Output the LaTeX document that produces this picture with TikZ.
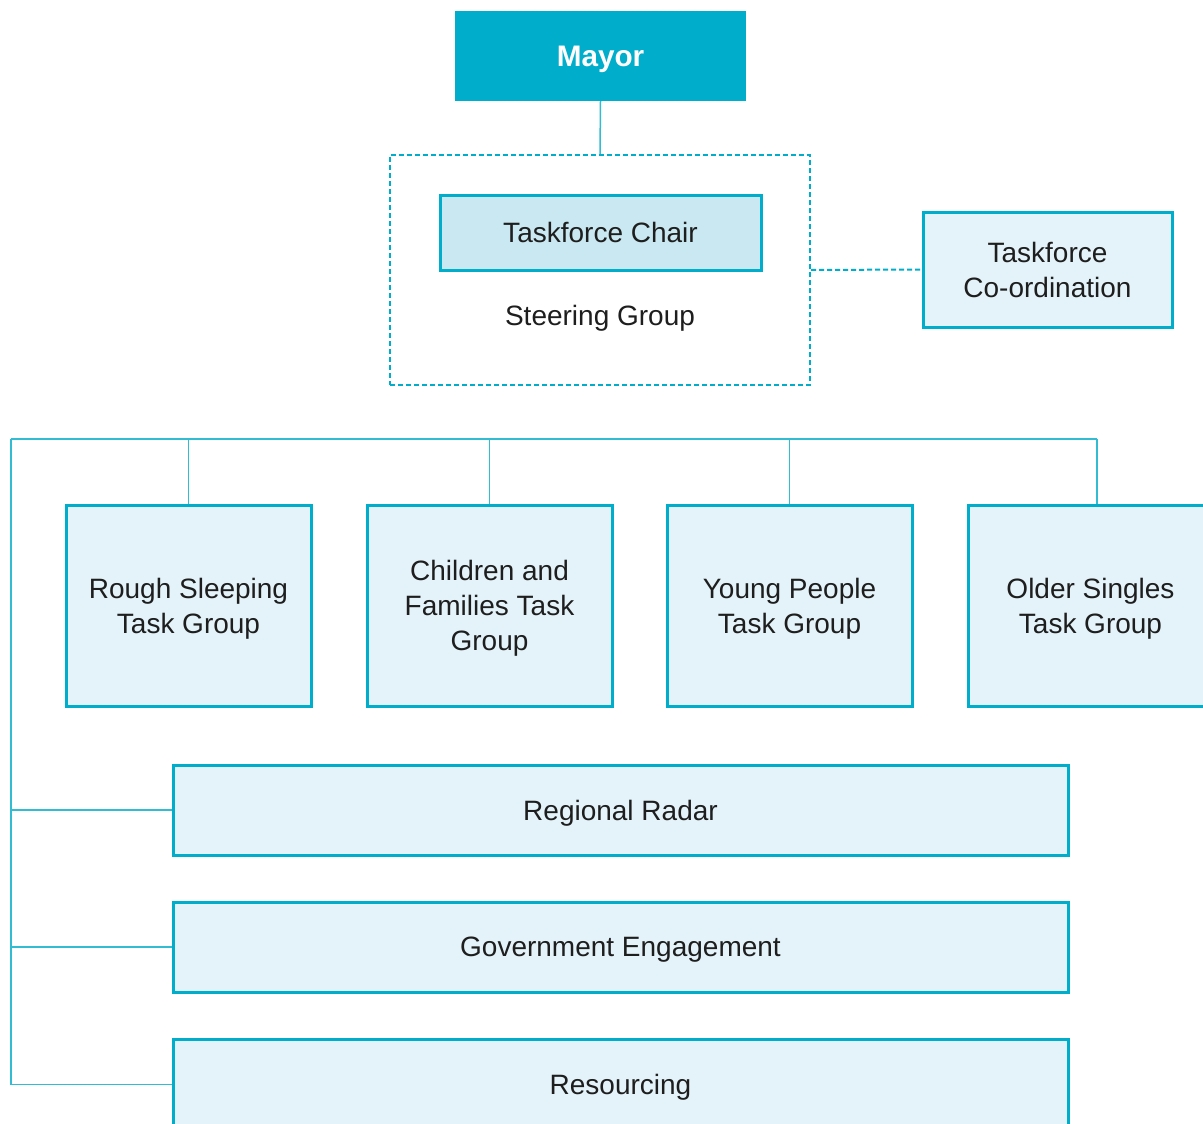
\documentclass[tikz,border=0pt]{standalone}
\usepackage{fontspec}
\setmainfont{Liberation Sans}
\usetikzlibrary{calc}
\definecolor{teal}{RGB}{0,173,202}
\definecolor{linecol}{RGB}{50,188,212}
\definecolor{paleblue}{RGB}{228,243,249}
\definecolor{chairblue}{RGB}{201,232,241}
\definecolor{ink}{RGB}{30,30,30}
\begin{document}
\begin{tikzpicture}[x=1pt,y=-1pt,
  every node/.style={inner sep=0pt, text depth=0pt, font=\fontsize{28}{35}\selectfont, text=ink, align=center},
  box/.style={draw=teal, line width=3pt, fill=paleblue},
  taskbox/.style={box, minimum width=245pt, minimum height=201pt},
  barbox/.style={box, minimum width=895pt, minimum height=90pt},
  link/.style={draw=linecol, line width=1.5pt},
  dashlink/.style={draw=teal, line width=2pt, dash pattern=on 5pt off 3pt}]
\clip (0,0) rectangle (1203,1124);
\fill[white] (0,0) rectangle (1203,1124);

% top of the hierarchy
\node[fill=teal, minimum width=291pt, minimum height=90pt, text=white,
      font=\fontsize{29.7}{35}\selectfont\bfseries] (mayor) at (600.5,56) {Mayor};

\node[dashlink, minimum width=420pt, minimum height=230pt] (steer) at (600,270) {};
\node[box, fill=chairblue, minimum width=321pt, minimum height=75pt] (chair) at (600.5,232.5) {Taskforce Chair};
\node (steerlabel) at (600,315) {Steering Group};

\node[box, minimum width=249pt, minimum height=115pt] (coord) at (1047.5,269.5) {Taskforce\\Co-ordination};

\draw[link] (mayor.south) -- (steer.north);
\draw[dashlink] (steer.east) -- (coord.west);

% task groups
\node[taskbox] (t1) at (188.5,605.5) {Rough Sleeping\\Task Group};
\node[taskbox] (t2) at (489.5,605.5) {Children and\\Families Task\\Group};
\node[taskbox] (t3) at (789.5,605.5) {Young People\\Task Group};
\node[taskbox] (t4) at (1090.5,605.5) {Older Singles\\Task Group};

% cross-cutting workstreams
\node[barbox] (r1) at (620.5,810) {Regional Radar};
\node[barbox] (r2) at (620.5,947) {Government Engagement};
\node[barbox] (r3) at (620.5,1084.5) {Resourcing};

% connector bus
\coordinate (busL) at (11,439);
\coordinate (busR) at (1097,439);
\draw[link] (busL) -- (busR);
\draw[link] (busR) -- (busR |- t4.north);
\foreach \t in {t1,t2,t3}
  \draw[link] (\t.north) -- (\t.north |- busL);
\draw[link] (busL) |- (r3.west);
\draw[link] (r1.west) -- (r1.west -| busL);
\draw[link] (r2.west) -- (r2.west -| busL);
\end{tikzpicture}
\end{document}
